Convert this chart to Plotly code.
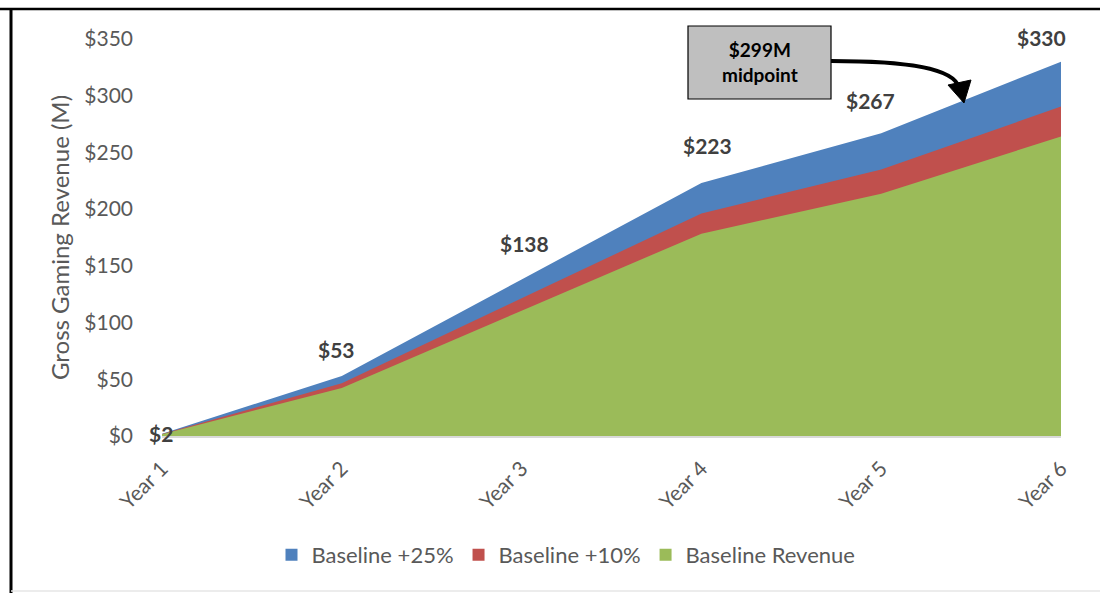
import plotly.graph_objects as go

# Revenue scenarios ($M) by year
years = ["Year 1", "Year 2", "Year 3", "Year 4", "Year 5", "Year 6"]
baseline = [1.6, 42.4, 110.4, 178.4, 213.6, 264.0]
plus_10 = [1.8, 46.6, 121.4, 196.2, 235.0, 290.4]
plus_25 = [2, 53, 138, 223, 267, 330]
y_ticks = [0, 50, 100, 150, 200, 250, 300, 350]
y_tick_text = ["$" + str(v) for v in y_ticks]

x_pos = list(range(len(years)))

FONT = "Lato, Carlito, Calibri, sans-serif"
GRAY = "#595959"

# Plot-area geometry in pixels (used to place paper-referenced decorations)
L, R, T, B = 162, 1061, 39, 436
W, H = R - L, B - T


def px_x(px):
    return (px - L) / W


def px_y(py):
    return (B - py) / H


fig = go.Figure()

# Largest scenario first so smaller areas paint over it
series = [
    ("Baseline +25%", plus_25, "#4F81BD"),
    ("Baseline +10%", plus_10, "#C0504D"),
    ("Baseline Revenue", baseline, "#9BBB59"),
]
for name, vals, color in series:
    fig.add_trace(go.Scatter(
        x=x_pos, y=vals, name=name, mode="lines", showlegend=False,
        legendgroup=name, line=dict(width=0, color=color), fill="tozeroy",
        fillcolor=color, hoverinfo="skip",
    ))
# Square legend keys
for name, vals, color in series:
    fig.add_trace(go.Bar(
        x=[None], y=[None], name=name, legendgroup=name,
        marker=dict(color=color, line=dict(width=0)), hoverinfo="skip",
    ))

# Total labels above the +25% line
label_shift = [(-1, 0), (-5, 26), (3, 36), (6, 38), (-11, 33), (-20, 24)]
for xi, v, (sx, sy) in zip(x_pos, plus_25, label_shift):
    fig.add_annotation(
        x=xi, y=v, text="<b>$" + str(v) + "</b>", showarrow=False,
        xshift=sx, yshift=sy,
        font=dict(family=FONT, size=21, color="#404040"),
    )

# Midpoint callout box
fig.add_shape(type="rect", xref="paper", yref="paper",
              x0=px_x(688), x1=px_x(831), y0=px_y(99), y1=px_y(26),
              fillcolor="#BFBFBF", line=dict(color="#000000", width=1.2),
              layer="above")
fig.add_annotation(x=px_x(759.5), y=px_y(62.5), xref="paper", yref="paper",
                   xanchor="center", yanchor="middle",
                   text="<b>$299M<br>midpoint</b>", showarrow=False,
                   font=dict(family=FONT, size=19, color="#000000"))

# Curved arrow from the box down to the Year 5-6 segment
curve = "M {:.4f} {:.4f} C {:.4f} {:.4f}, {:.4f} {:.4f}, {:.4f} {:.4f}".format(
    px_x(831), px_y(61), px_x(905), px_y(61), px_x(955), px_y(68),
    px_x(959), px_y(88))
fig.add_shape(type="path", path=curve, xref="paper", yref="paper",
              line=dict(color="#000000", width=4), layer="above")
head = "M {:.4f} {:.4f} L {:.4f} {:.4f} L {:.4f} {:.4f} Z".format(
    px_x(948), px_y(85), px_x(971), px_y(80), px_x(964), px_y(103))
fig.add_shape(type="path", path=head, xref="paper", yref="paper",
              fillcolor="#000000", line=dict(color="#000000", width=1),
              layer="above")

# Frame lines
fig.add_shape(type="line", xref="paper", yref="paper",
              x0=px_x(0), x1=px_x(1100), y0=px_y(9), y1=px_y(9),
              line=dict(color="#000000", width=2.5))
fig.add_shape(type="line", xref="paper", yref="paper",
              x0=px_x(11), x1=px_x(11), y0=px_y(8), y1=px_y(593),
              line=dict(color="#000000", width=3))
fig.add_shape(type="line", xref="paper", yref="paper",
              x0=px_x(11), x1=px_x(1100), y0=px_y(591), y1=px_y(591),
              line=dict(color="#E6E6E6", width=1.5))

fig.update_layout(
    width=1100, height=593,
    margin=dict(l=L, r=1100 - R, t=T, b=593 - B),
    paper_bgcolor="white", plot_bgcolor="white",
    font=dict(family=FONT, color=GRAY),
    showlegend=True,
    legend=dict(orientation="h", x=px_x(566), xanchor="center", y=px_y(555),
                yanchor="middle", font=dict(size=22, color=GRAY),
                traceorder="normal"),
    xaxis=dict(range=[0, 5], tickvals=x_pos, ticktext=years, tickangle=-45,
               showgrid=False, zeroline=False, showline=True,
               linecolor="#D9D9D9", linewidth=2, ticks="",
               ticklabelstandoff=10,
               tickfont=dict(size=21, color=GRAY)),
    yaxis=dict(range=[0, 350], tickvals=y_ticks, ticktext=y_tick_text,
               showgrid=False, zeroline=False, showline=False, ticks="",
               ticklabelstandoff=28,
               tickfont=dict(size=21, color=GRAY),
               title=dict(text="Gross Gaming Revenue (M)", standoff=7,
                          font=dict(size=24, color=GRAY))),
)

fig.write_html("out.html")
